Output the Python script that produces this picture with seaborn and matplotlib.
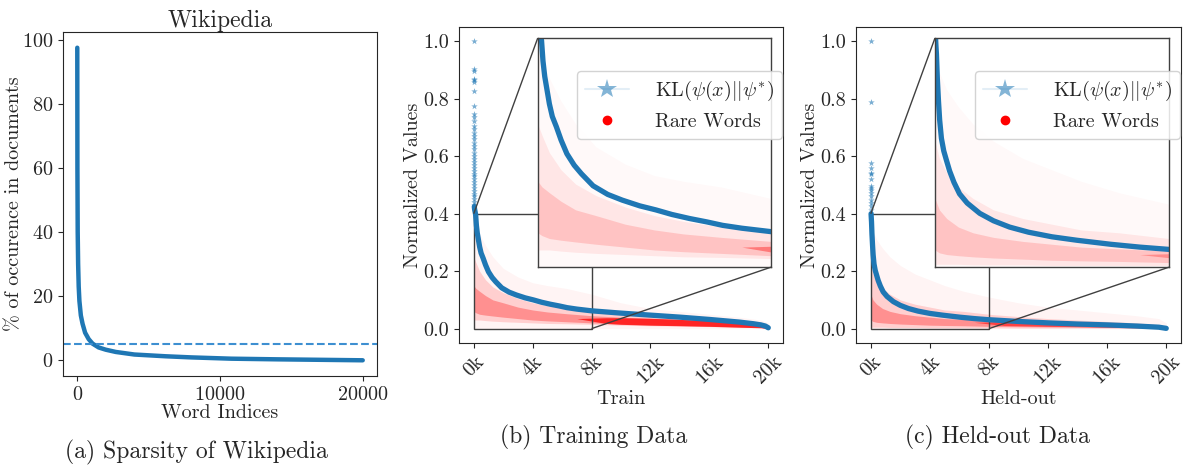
import matplotlib
matplotlib.use("Agg")
import matplotlib.pyplot as plt
from matplotlib.lines import Line2D
from mpl_toolkits.axes_grid1.inset_locator import mark_inset
import numpy as np
import seaborn as sns

sns.set_style("ticks")
plt.rcParams["font.family"] = ["cmr10", "DejaVu Serif"]
plt.rcParams["mathtext.fontset"] = "cm"
plt.rcParams["axes.formatter.use_mathtext"] = True
plt.rcParams["axes.unicode_minus"] = False

BLUE = "#1f77b4"
RED = "#ff0000"

# (a) document frequency of words, sorted
wiki_x = [0, 10, 30, 60, 100, 150, 250, 370, 550, 800, 1070, 1500, 2000,
          2700, 4000, 6200, 8000, 10800, 14000, 17000, 20000]
wiki_y = [97.5, 60, 40, 30, 23, 18.5, 14, 11.4, 8.6, 6.6, 5.2, 4.0, 3.3,
          2.6, 1.8, 1.25, 0.9, 0.5, 0.3, 0.15, 0.0]
wiki_cutoff = 5

# (b)/(c) sorted KL values: sparse head words, then the dense curve
train_head = [1.0, 0.904, 0.898, 0.869, 0.864, 0.858, 0.828, 0.776, 0.747,
              0.735, 0.723, 0.706, 0.694, 0.682, 0.671, 0.659, 0.647, 0.636,
              0.624, 0.612, 0.60, 0.59, 0.58, 0.57, 0.56, 0.55, 0.54, 0.53,
              0.52, 0.51, 0.50, 0.49, 0.48, 0.47, 0.46, 0.45, 0.44, 0.43]
train_kl_x = [40, 60, 100, 130, 180, 240, 300, 400, 500, 640, 800, 1000,
              1250, 1500, 1900, 2400, 2900, 3500, 4050, 4600, 5200, 5800,
              6340, 7000, 8000, 10000, 12000, 14000, 16000, 18000, 19000,
              19500, 19800, 20000]
train_kl_y = [0.425, 0.415, 0.405, 0.396, 0.36, 0.333, 0.315, 0.285, 0.263,
              0.245, 0.222, 0.198, 0.178, 0.163, 0.142, 0.127, 0.117, 0.107,
              0.10, 0.092, 0.085, 0.079, 0.073, 0.068, 0.062, 0.054, 0.047,
              0.04, 0.032, 0.023, 0.017, 0.013, 0.009, 0.003]

held_head = [1.0, 0.79, 0.578, 0.56, 0.543, 0.537, 0.52, 0.496, 0.49, 0.484,
             0.473, 0.461, 0.449, 0.438, 0.426, 0.414]
held_kl_x = [20, 35, 50, 80, 120, 160, 220, 300, 390, 500, 650, 840, 1100,
             1530, 2000, 2550, 3200, 4000, 4850, 6000, 7000, 8000, 10000,
             12000, 14000, 16000, 18000, 19500, 20000]
held_kl_y = [0.40, 0.385, 0.372, 0.33, 0.29, 0.257, 0.225, 0.203, 0.187,
             0.168, 0.148, 0.128, 0.112, 0.094, 0.081, 0.07, 0.061, 0.053,
             0.047, 0.04, 0.035, 0.031, 0.025, 0.020, 0.016, 0.013, 0.009,
             0.005, 0.001]

# rare-word cloud, read as envelopes (sparse top, dense band, core band)
cloud_x = [0, 150, 400, 800, 1300, 2000, 3000, 4000, 5000, 6300, 8000,
           10000, 12000, 14000, 16000, 18000, 19500, 20000]

train_top = [0.38, 0.36, 0.33, 0.29, 0.25, 0.21, 0.18, 0.16, 0.15, 0.14,
             0.12, 0.09, 0.07, 0.06, 0.05, 0.04, 0.03, 0.02]
train_hi = [0.25, 0.23, 0.20, 0.17, 0.145, 0.125, 0.105, 0.09, 0.08, 0.07,
            0.06, 0.05, 0.045, 0.04, 0.036, 0.03, 0.022, 0.012]
train_lo = [0.03, 0.03, 0.03, 0.028, 0.026, 0.024, 0.022, 0.02, 0.018, 0.017,
            0.015, 0.012, 0.01, 0.009, 0.007, 0.005, 0.003, 0.0]
train_core_hi = [0.15, 0.14, 0.13, 0.115, 0.10, 0.09, 0.075, 0.065, 0.058,
                 0.052, 0.045, 0.04, 0.036, 0.033, 0.03, 0.025, 0.018, 0.008]
train_core_lo = [0.06, 0.055, 0.05, 0.047, 0.044, 0.04, 0.035, 0.03, 0.027,
                 0.024, 0.02, 0.016, 0.013, 0.011, 0.009, 0.006, 0.004, 0.0]

held_top = [0.36, 0.34, 0.31, 0.28, 0.25, 0.22, 0.19, 0.17, 0.15, 0.13,
            0.11, 0.09, 0.075, 0.065, 0.055, 0.045, 0.035, 0.02]
held_hi = [0.22, 0.19, 0.165, 0.14, 0.12, 0.10, 0.085, 0.075, 0.065, 0.06,
           0.05, 0.042, 0.035, 0.03, 0.025, 0.02, 0.014, 0.008]
held_lo = [0.005, 0.005, 0.005, 0.005, 0.004, 0.004, 0.004, 0.003, 0.003,
           0.003, 0.003, 0.002, 0.002, 0.002, 0.001, 0.001, 0.0, 0.0]
held_core_hi = [0.12, 0.10, 0.085, 0.07, 0.06, 0.052, 0.045, 0.04, 0.035,
                0.032, 0.028, 0.025, 0.022, 0.019, 0.016, 0.013, 0.008, 0.004]
held_core_lo = [0.03, 0.025, 0.022, 0.02, 0.018, 0.016, 0.014, 0.012, 0.011,
                0.01, 0.008, 0.007, 0.006, 0.005, 0.004, 0.003, 0.002, 0.0]

# the saturated red strip along the tail
tail_x = [7000, 9000, 10000, 12000, 14000, 16000, 18000, 19500, 20000]
train_tail_hi = [0.035, 0.038, 0.038, 0.036, 0.032, 0.028, 0.022, 0.015, 0.006]
train_tail_lo = [0.035, 0.018, 0.015, 0.012, 0.01, 0.008, 0.005, 0.003, 0.0]
held_tail_hi = [0.022, 0.025, 0.025, 0.022, 0.019, 0.016, 0.012, 0.008, 0.003]
held_tail_lo = [0.022, 0.011, 0.01, 0.008, 0.007, 0.005, 0.003, 0.002, 0.0]

k_ticks = [0, 4000, 8000, 12000, 16000, 20000]
k_labels = ["0k", "4k", "8k", "12k", "16k", "20k"]


def draw_cloud(ax, cloud, tail, tail_alpha, scale=1.0):
    top, hi, lo, core_hi, core_lo = cloud
    x = np.array(cloud_x, dtype=float)
    ax.fill_between(x, np.zeros_like(x), top, color=RED, alpha=0.045 * scale,
                    lw=0)
    ax.fill_between(x, lo, hi, color=RED, alpha=0.15 * scale, lw=0)
    ax.fill_between(x, core_lo, core_hi, color=RED, alpha=0.3 * scale, lw=0)
    ax.fill_between(tail_x, tail[1], tail[0], color=RED,
                    alpha=tail_alpha * scale, lw=0)


def draw_kl(ax, head, kl_x, kl_y):
    sns.scatterplot(x=np.arange(len(head)), y=head, ax=ax, marker="*",
                    s=24, color=BLUE, alpha=0.6, linewidth=0)
    sns.lineplot(x=kl_x, y=kl_y, ax=ax, color=BLUE, lw=3.8, sort=False)


def kl_panel(ax, head, kl_x, kl_y, cloud, tail, tail_alpha, xlabel):
    draw_cloud(ax, cloud, tail, tail_alpha)
    draw_kl(ax, head, kl_x, kl_y)
    ax.set_xlim(-1000, 21000)
    ax.set_ylim(-0.05, 1.05)
    ax.set_xticks(k_ticks)
    ax.set_xticklabels(k_labels, rotation=45)
    ax.set_yticks([0.0, 0.2, 0.4, 0.6, 0.8, 1.0])
    ax.set_yticklabels(["0.0", "0.2", "0.4", "0.6", "0.8", "1.0"])
    ax.set_xlabel(xlabel, fontsize=14.5, labelpad=2)
    ax.set_ylabel("Normalized Values", fontsize=14.5, labelpad=1)
    ax.tick_params(labelsize=14.5)

    axins = ax.inset_axes([0.243, 0.24, 0.72, 0.725])
    draw_cloud(axins, cloud, tail, tail_alpha, scale=0.5)
    draw_kl(axins, head, kl_x, kl_y)
    axins.set_xlim(0, 8000)
    axins.set_ylim(0, 0.4)
    axins.set_xticks([])
    axins.set_yticks([])
    axins.set_xlabel("")
    axins.set_ylabel("")
    for sp in axins.spines.values():
        sp.set_edgecolor("0.25")
        sp.set_linewidth(1.0)
    mark_inset(ax, axins, loc1=2, loc2=4, fc="none", ec="0.25", lw=1.0)

    handles = [
        Line2D([0], [0], color=(0.12, 0.47, 0.71, 0.12), lw=1.5, marker="*",
               markersize=15, markerfacecolor=(0.12, 0.47, 0.71, 0.55),
               markeredgewidth=0),
        Line2D([0], [0], color=RED, marker="o", markersize=6, lw=0),
    ]
    leg = ax.legend(handles, [r"KL$(\psi(x)||\psi^{*})$", "Rare Words"],
                    loc="upper right", bbox_to_anchor=(0.998, 0.862),
                    borderaxespad=0, fontsize=14.5, framealpha=0.85,
                    handlelength=2.2, handletextpad=1.3)
    leg.set_zorder(10)


fig = plt.figure(figsize=(11.83, 4.67), dpi=100)

# (a)
ax_a = fig.add_axes([63 / 1183, 91 / 467, 314 / 1183, 344 / 467])
sns.lineplot(x=wiki_x, y=wiki_y, ax=ax_a, color=BLUE, lw=3.2)
ax_a.axhline(wiki_cutoff, color="#3d8fd1", lw=1.5, ls="--")
ax_a.set_xlim(-1000, 21000)
ax_a.set_ylim(-4.9, 102.4)
ax_a.set_xticks([0, 10000, 20000])
ax_a.set_yticks([0, 20, 40, 60, 80, 100])
ax_a.set_title("Wikipedia", fontsize=17, pad=3)
ax_a.set_xlabel("Word Indices", fontsize=14.5, labelpad=0)
ax_a.set_ylabel("% of occurence in documents", fontsize=14.5, labelpad=-1)
ax_a.tick_params(labelsize=14.5)

# (b)
ax_b = fig.add_axes([459 / 1183, 124 / 467, 324 / 1183, 316 / 467])
kl_panel(ax_b, train_head, train_kl_x, train_kl_y,
         (train_top, train_hi, train_lo, train_core_hi, train_core_lo),
         (train_tail_hi, train_tail_lo), 0.75, "Train")

# (c)
ax_c = fig.add_axes([856 / 1183, 124 / 467, 325 / 1183, 316 / 467])
kl_panel(ax_c, held_head, held_kl_x, held_kl_y,
         (held_top, held_hi, held_lo, held_core_hi, held_core_lo),
         (held_tail_hi, held_tail_lo), 0.55, "Held-out")

fig.text(0.166, 0.032, "(a) Sparsity of Wikipedia", ha="center", va="center",
         fontsize=17)
fig.text(0.502, 0.064, "(b) Training Data", ha="center", va="center",
         fontsize=17)
fig.text(0.843, 0.064, "(c) Held-out Data", ha="center", va="center",
         fontsize=17)

fig.savefig("out.png", dpi=100)
